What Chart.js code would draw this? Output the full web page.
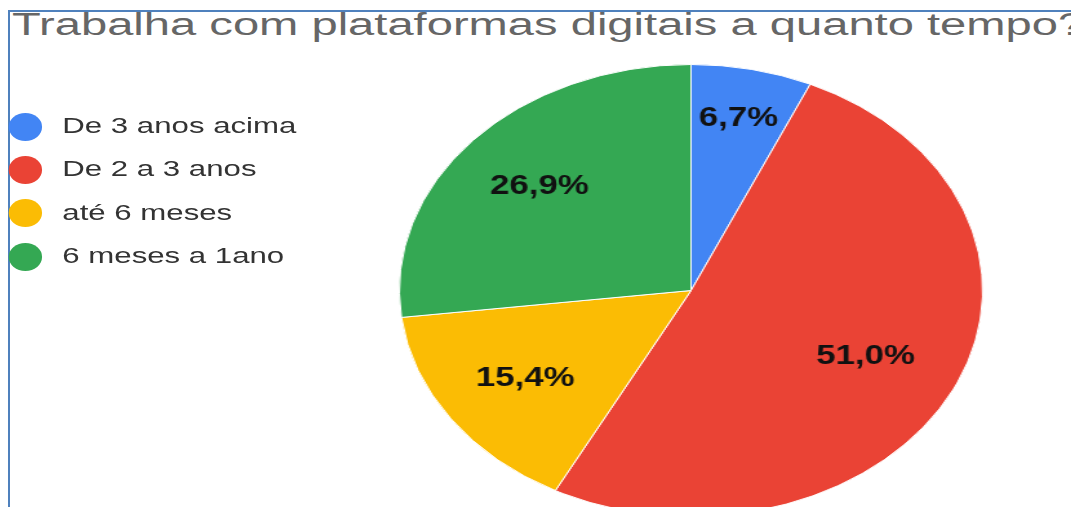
<!DOCTYPE html>
<html lang="pt">
<head>
<meta charset="utf-8">
<title>Trabalha com plataformas digitais a quanto tempo?</title>
<script src="https://cdn.jsdelivr.net/npm/chart.js@4.4.1/dist/chart.umd.min.js"></script>
<style>
    html, body { margin: 0; padding: 0; background: #fff; overflow: hidden; }
    body { width: 1071px; height: 507px; position: relative; font-family: "Liberation Sans", Arial, sans-serif; }
    .frame {
        position: absolute; left: 8px; top: 10px; right: -20px; bottom: -20px;
        border-top: 2px solid #4f81bd; border-left: 2px solid #4f81bd;
    }
    .title {
        position: absolute; left: 12px; top: 9px;
        font-size: 31px; line-height: 31px; color: #666; white-space: nowrap;
        transform: scaleX(1.52); transform-origin: 0 0;
    }
    #pieWrap {
        position: absolute; left: 0; top: 0; width: 830px; height: 530px;
        transform: scaleX(1.2904); transform-origin: 0 0;
    }
    #legend {
        position: absolute; left: 0; top: 105px; margin: 0; padding: 0; list-style: none;
        transform: scaleX(1.45); transform-origin: 0 0;
    }
    #legend li { display: flex; align-items: center; height: 43.3px; font-size: 21.5px; color: #333; white-space: nowrap; }
    #legend .dot { width: 23px; height: 28px; border-radius: 50%; margin-left: 6px; margin-right: 14px; }
</style>
</head>
<body>
<div class="frame"></div>
<div class="title">Trabalha com plataformas digitais a quanto tempo?</div>
<div id="pieWrap"><canvas id="tempoChart"></canvas></div>
<ul id="legend"></ul>

<script>
const categories = ['De 3 anos acima', 'De 2 a 3 anos', 'até 6 meses', '6 meses a 1ano'];
const percentages = [6.7, 51.0, 15.4, 26.9];
const sliceColors = ['#4285f4', '#ea4335', '#fbbc04', '#34a853'];

// percentage text inside each slice, radius given as a fraction of the pie radius
const sliceLabels = {
    id: 'sliceLabels',
    afterDatasetsDraw(chart, args, opts) {
        const ctx = chart.ctx;
        const meta = chart.getDatasetMeta(0);
        ctx.save();
        ctx.font = opts.font;
        ctx.fillStyle = opts.color;
        ctx.textAlign = 'center';
        ctx.textBaseline = 'middle';
        meta.data.forEach((arc, i) => {
            const p = arc.getProps(['x', 'y', 'startAngle', 'endAngle', 'outerRadius'], true);
            const mid = (p.startAngle + p.endAngle) / 2;
            const r = p.outerRadius * opts.radius[i];
            const value = chart.data.datasets[0].data[i];
            ctx.fillText(value.toFixed(1).replace('.', ',') + '%', p.x + Math.cos(mid) * r, p.y + Math.sin(mid) * r);
        });
        ctx.restore();
    }
};

const chart = new Chart(document.getElementById('tempoChart'), {
    type: 'pie',
    data: {
        labels: categories,
        datasets: [{
            data: percentages,
            backgroundColor: sliceColors,
            borderColor: '#ffffff',
            borderWidth: 1
        }]
    },
    options: {
        responsive: true,
        maintainAspectRatio: false,
        animation: false,
        layout: { padding: { left: 309, right: 68, top: 64, bottom: 13 } },
        plugins: {
            legend: { display: false },
            tooltip: { enabled: false },
            sliceLabels: {
                font: 'bold 27px "Liberation Sans", Arial, sans-serif',
                color: '#111111',
                radius: [0.78, 0.665, 0.69, 0.695]
            }
        }
    },
    plugins: [sliceLabels]
});

// legend list built from the chart's own legend items
function buildLegend(chart) {
    const list = document.getElementById('legend');
    list.innerHTML = '';
    const items = chart.options.plugins.legend.labels.generateLabels(chart);
    items.forEach(item => {
        const li = document.createElement('li');
        li.innerHTML = `<span class="dot" style="background:${item.fillStyle}"></span><span>${item.text}</span>`;
        list.appendChild(li);
    });
}

buildLegend(chart);
</script>
</body>
</html>
